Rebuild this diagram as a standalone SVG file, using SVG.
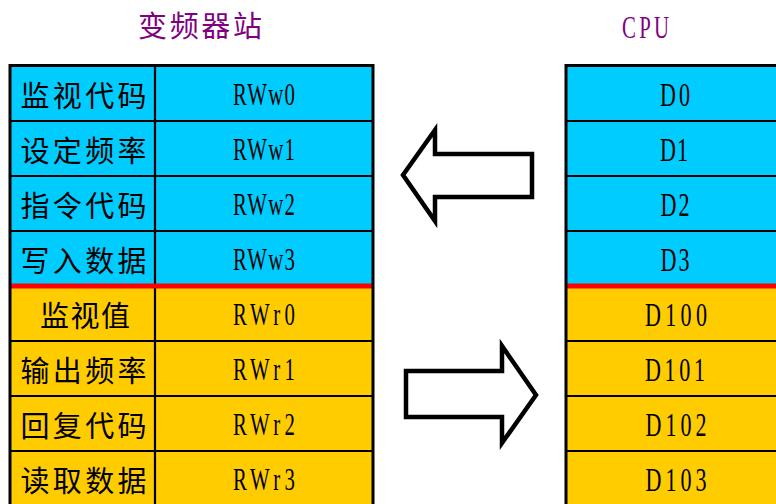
<svg xmlns="http://www.w3.org/2000/svg" width="776" height="504" viewBox="0 0 776 504">
<style>
.cy{fill:#00CCFF}
.ye{fill:#FFCC00}
.ln{stroke:#000;stroke-width:2.2;fill:none}
.bd{stroke:#000;stroke-width:3;fill:none}
.red{stroke:#FF0000;stroke-width:5}
.zh{font-family:"Noto Sans CJK SC","Noto Sans CJK JP",sans-serif;font-size:29px;fill:#000;text-anchor:middle}
.la{font-family:"Liberation Serif",serif;font-size:32px;fill:#000;text-anchor:middle}
.d{font-size:34px}
.ti{fill:#800080}
.arr{fill:#fff;stroke:#000;stroke-width:4.5;stroke-linejoin:miter}
</style>
<rect width="776" height="504" fill="#fff"/>
<text id="title-left" class="zh ti" x="200" y="37" font-size="28" textLength="124" lengthAdjust="spacing">变频器站</text>
<text id="title-right" class="la ti" transform="scale(0.65 1)" x="993.08" y="38" font-size="35" textLength="72.31" lengthAdjust="spacing">CPU</text>

<g id="station-table">
<rect class="cy" x="10" y="65.5" width="363" height="220.5"/>
<rect class="ye" x="10" y="286" width="363" height="220"/>
<g class="ln">
<line x1="10" y1="121" x2="373" y2="121"/>
<line x1="10" y1="176" x2="373" y2="176"/>
<line x1="10" y1="231" x2="373" y2="231"/>
<line x1="10" y1="341" x2="373" y2="341"/>
<line x1="10" y1="396" x2="373" y2="396"/>
<line x1="10" y1="451" x2="373" y2="451"/>
<line x1="155" y1="65.5" x2="155" y2="506"/>
</g>
<line class="red" x1="10" y1="286" x2="373" y2="286"/>
<rect class="bd" x="10" y="65.5" width="363" height="445"/>
</g>

<g id="row-w0"><text class="zh" x="83.5" y="107" textLength="126" lengthAdjust="spacing">监视代码</text><text class="la" transform="scale(0.65 1)" x="406.15" y="105" textLength="95.38" lengthAdjust="spacing">RWw0</text></g>
<g id="row-w1"><text class="zh" x="83.5" y="162" textLength="126" lengthAdjust="spacing">设定频率</text><text class="la" transform="scale(0.65 1)" x="406.15" y="160" textLength="95.38" lengthAdjust="spacing">RWw1</text></g>
<g id="row-w2"><text class="zh" x="83.5" y="217" textLength="126" lengthAdjust="spacing">指令代码</text><text class="la" transform="scale(0.65 1)" x="406.15" y="215" textLength="95.38" lengthAdjust="spacing">RWw2</text></g>
<g id="row-w3"><text class="zh" x="83.5" y="272" textLength="126" lengthAdjust="spacing">写入数据</text><text class="la" transform="scale(0.65 1)" x="406.15" y="270" textLength="95.38" lengthAdjust="spacing">RWw3</text></g>
<g id="row-r0"><text class="zh" x="85" y="327" textLength="90" lengthAdjust="spacing">监视值</text><text class="la" transform="scale(0.65 1)" x="406.15" y="325" textLength="95.38" lengthAdjust="spacing">RWr0</text></g>
<g id="row-r1"><text class="zh" x="83.5" y="382" textLength="126" lengthAdjust="spacing">输出频率</text><text class="la" transform="scale(0.65 1)" x="406.15" y="380" textLength="95.38" lengthAdjust="spacing">RWr1</text></g>
<g id="row-r2"><text class="zh" x="83.5" y="437" textLength="126" lengthAdjust="spacing">回复代码</text><text class="la" transform="scale(0.65 1)" x="406.15" y="435" textLength="95.38" lengthAdjust="spacing">RWr2</text></g>
<g id="row-r3"><text class="zh" x="83.5" y="492" textLength="126" lengthAdjust="spacing">读取数据</text><text class="la" transform="scale(0.65 1)" x="406.15" y="490" textLength="95.38" lengthAdjust="spacing">RWr3</text></g>

<g id="cpu-table">
<rect class="cy" x="566" y="65.5" width="220" height="220.5"/>
<rect class="ye" x="566" y="286" width="220" height="220"/>
<g class="ln">
<line x1="566" y1="121" x2="786" y2="121"/>
<line x1="566" y1="176" x2="786" y2="176"/>
<line x1="566" y1="231" x2="786" y2="231"/>
<line x1="566" y1="341" x2="786" y2="341"/>
<line x1="566" y1="396" x2="786" y2="396"/>
<line x1="566" y1="451" x2="786" y2="451"/>
</g>
<line class="red" x1="566" y1="286" x2="786" y2="286"/>
<rect class="bd" x="566" y="65.5" width="230" height="445"/>
</g>

<g id="cpu-d0"><text class="la d" transform="scale(0.65 1)" x="1038.46" y="106" textLength="46.15" lengthAdjust="spacing">D0</text></g>
<g id="cpu-d1"><text class="la d" transform="scale(0.65 1)" x="1036.92" y="161" textLength="43.08" lengthAdjust="spacing">D1</text></g>
<g id="cpu-d2"><text class="la d" transform="scale(0.65 1)" x="1038.46" y="216" textLength="44.62" lengthAdjust="spacing">D2</text></g>
<g id="cpu-d3"><text class="la d" transform="scale(0.65 1)" x="1038.46" y="271" textLength="44.62" lengthAdjust="spacing">D3</text></g>
<g id="cpu-d100"><text class="la d" transform="scale(0.65 1)" x="1040" y="326" textLength="95.38" lengthAdjust="spacing">D100</text></g>
<g id="cpu-d101"><text class="la d" transform="scale(0.65 1)" x="1038.46" y="381" textLength="92.31" lengthAdjust="spacing">D101</text></g>
<g id="cpu-d102"><text class="la d" transform="scale(0.65 1)" x="1040" y="436" textLength="93.85" lengthAdjust="spacing">D102</text></g>
<g id="cpu-d103"><text class="la d" transform="scale(0.65 1)" x="1040" y="491" textLength="93.85" lengthAdjust="spacing">D103</text></g>

<g id="connectors">
<polygon class="arr" points="403,175 435,130 435,154 532,154 532,197 435,197 435,221"/>
<polygon class="arr" points="406,371 502,371 502,346 536,395 502,443 502,417 406,417"/>
</g>
</svg>
